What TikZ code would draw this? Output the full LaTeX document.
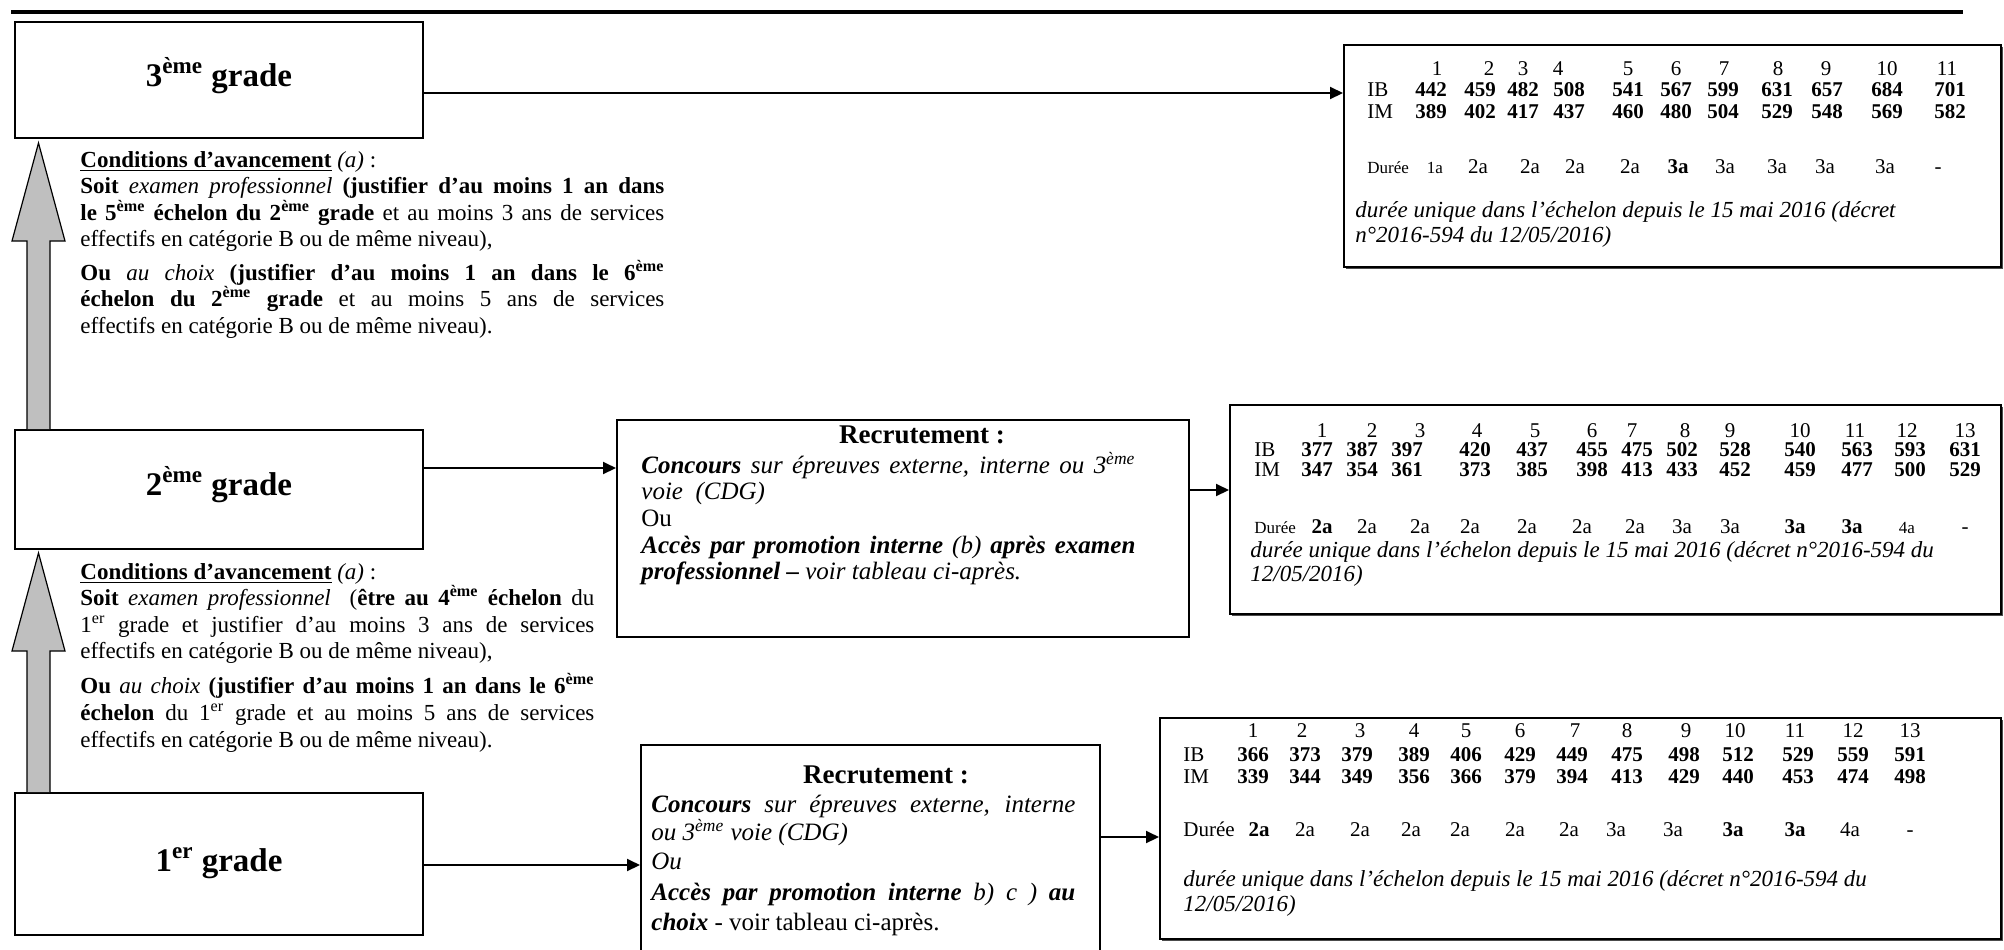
\documentclass[tikz,border=0pt]{standalone}
\usepackage{fontspec}
\setmainfont{Liberation Serif}
\usetikzlibrary{arrows.meta,calc,fit,shadows}
\newcommand\fbody{\fontsize{11.5}{13.35}\selectfont}
\newcommand\frec{\fontsize{12.5}{13}\selectfont}
\newcommand\frtitle{\fontsize{13.5}{14}\selectfont\bfseries}
\newcommand\ftitle{\fontsize{16.5}{18}\selectfont\bfseries}
\newcommand\fnum{\fontsize{10.5}{12}\selectfont}
\newcommand\fsm{\fontsize{8.5}{9}\selectfont}
\newcommand\fnote{\fontsize{11.5}{13}\selectfont\itshape}
\newcommand\sx[1]{\textsuperscript{#1}}
\begin{document}
\begin{tikzpicture}[x=0.5pt,y=-0.5pt,
  box/.style={draw,line width=1pt,inner sep=0pt,fill=white},
  tbox/.style={box,drop shadow={shadow xshift=1pt,shadow yshift=-1pt,fill=black!70,opacity=1}},
  conn/.style={line width=1pt,-{Triangle[length=6.5pt,width=6pt]}},
  gar/.style={draw,line width=0.6pt,fill=black!25},
  txt/.style={anchor=base west,inner sep=0pt,font=\fbody},
  rtxt/.style={anchor=base west,inner sep=0pt,font=\frec},
  rtitle/.style={anchor=base,inner sep=0pt,font=\frtitle},
  num/.style={anchor=base,inner sep=0pt,font=\fnum},
  numb/.style={anchor=base,inner sep=0pt,font=\fnum\bfseries},
  lab/.style={anchor=base west,inner sep=0pt,font=\fnum},
  note/.style={anchor=base west,inner sep=0pt,font=\fnote},
  gtitle/.style={anchor=base,inner sep=0pt,font=\ftitle},
]
\useasboundingbox (0,0) rectangle (2004,949);
% top rule
\coordinate (ruleL) at (11,12);
\coordinate (ruleR) at (1963,12);
\draw[line width=2pt] (ruleL) -- (ruleR);

% grade boxes
\node[box, fit={(15,22) (423,138)}] (g3) {};
\node[box, fit={(15,430) (423,549)}] (g2) {};
\node[box, fit={(15,793) (423,935)}] (g1) {};
\node[gtitle] (g3t) at (219,86) {3\sx{ème} grade};
\node[gtitle] (g2t) at (219,495) {2\sx{ème} grade};
\node[gtitle] (g1t) at (219,871) {1\sx{er} grade};

% recruitment boxes
\node[box, fit={(617,420) (1189,637)}] (r2) {};
\node[box, fit={(641,745) (1100,965)}] (r1) {};

% tables
\node[tbox, fit={(1344,45) (2001,267)}] (t3) {};
\node[tbox, fit={(1230,405) (2001,614)}] (t2) {};
\node[tbox, fit={(1160,718) (2001,939)}] (t1) {};

% grey advancement arrows
\filldraw[gar] ($(g2.north west)+(13,0)$) -- ($(g3.south west)+(13,102)$) -- ($(g3.south west)+(-2,102)$) -- ($(g3.south west)+(24.5,4)$) -- ($(g3.south west)+(51,102)$) -- ($(g3.south west)+(36,102)$) -- ($(g2.north west)+(36,0)$);
\filldraw[gar] ($(g1.north west)+(13,0)$) -- ($(g2.south west)+(13,101)$) -- ($(g2.south west)+(-2,101)$) -- ($(g2.south west)+(24.5,3)$) -- ($(g2.south west)+(51,101)$) -- ($(g2.south west)+(36,101)$) -- ($(g1.north west)+(36,0)$);

% connectors
\coordinate (y3) at (0,93);
\coordinate (y2a) at (0,468);
\coordinate (y2b) at (0,490);
\coordinate (y1a) at (0,865);
\coordinate (y1b) at (0,837);
\draw[conn] (g3.east |- y3) -- (t3.west |- y3);
\draw[conn] (g2.east |- y2a) -- (r2.west |- y2a);
\draw[conn] (r2.east |- y2b) -- (t2.west |- y2b);
\draw[conn] (g1.east |- y1a) -- (r1.west |- y1a);
\draw[conn] (r1.east |- y1b) -- (t1.west |- y1b);

% conditions block 1
\node[txt] (c3a) at (80,167) {\underline{\textbf{Conditions d’avancement}} \textit{(a)} :};
\node[txt] (c3b) at (80,193) {\makebox[292pt][s]{\textbf{Soit} \textit{examen professionnel} \textbf{(justifier d’au moins 1 an dans}}};
\node[txt] (c3c) at (80,220) {\makebox[292pt][s]{\textbf{le 5\sx{ème} échelon du 2\sx{ème} grade} et au moins 3 ans de services}};
\node[txt] (c3d) at (80,246) {effectifs en catégorie B ou de même niveau),};
\node[txt] (c3e) at (80,280) {\makebox[292pt][s]{\textbf{Ou} \textit{au choix} \textbf{(justifier d’au moins 1 an dans le 6\sx{ème}}}};
\node[txt] (c3f) at (80,306) {\makebox[292pt][s]{\textbf{échelon du 2\sx{ème} grade} et au moins 5 ans de services}};
\node[txt] (c3g) at (80,333) {effectifs en catégorie B ou de même niveau).};

% conditions block 2
\node[txt] (c2a) at (80,579) {\underline{\textbf{Conditions d’avancement}} \textit{(a)} :};
\node[txt] (c2b) at (80,605) {\makebox[257pt][s]{\textbf{Soit} \textit{examen professionnel}\ \ (\textbf{être au 4\sx{ème} échelon} du}};
\node[txt] (c2c) at (80,632) {\makebox[257pt][s]{1\sx{er} grade et justifier d’au moins 3 ans de services}};
\node[txt] (c2d) at (80,658) {effectifs en catégorie B ou de même niveau),};
\node[txt] (c2e) at (80,693) {\makebox[257pt][s]{\textbf{Ou} \textit{au choix} \textbf{(justifier d’au moins 1 an dans le 6\sx{ème}}}};
\node[txt] (c2f) at (80,720) {\makebox[257pt][s]{\textbf{échelon} du 1\sx{er} grade et au moins 5 ans de services}};
\node[txt] (c2g) at (80,747) {effectifs en catégorie B ou de même niveau).};

% recruitment 2
\node[rtitle] (r2t) at (922,443) {Recrutement :};
\node[rtxt] (r2a) at (641,473) {\makebox[247pt][s]{\itshape\textbf{Concours} sur épreuves externe, interne ou 3\sx{ème}}};
\node[rtxt] (r2b) at (641,499) {\itshape voie\ \ (CDG)};
\node[rtxt] (r2c) at (641,526) {Ou};
\node[rtxt] (r2d) at (641,553) {\makebox[247pt][s]{\itshape\textbf{Accès par promotion interne} (b) \textbf{après examen}}};
\node[rtxt] (r2e) at (641,579) {\itshape\textbf{professionnel –} voir tableau ci-après.};

% recruitment 1
\node[rtitle] (r1t) at (886,783) {Recrutement :};
\node[rtxt] (r1a) at (651,812) {\makebox[212pt][s]{\itshape\textbf{Concours} sur épreuves externe, interne}};
\node[rtxt] (r1b) at (651,840) {\itshape ou 3\sx{ème} voie (CDG)};
\node[rtxt] (r1c) at (651,869) {\itshape Ou};
\node[rtxt] (r1d) at (651,900) {\makebox[212pt][s]{\itshape\textbf{Accès par promotion interne} b) c ) \textbf{au}}};
\node[rtxt] (r1e) at (651,930) {\textbf{\itshape choix} - voir tableau ci-après.};

% table 3
\foreach \v/\x [count=\i] in {1/1437,2/1489,3/1523,4/1558,5/1628,6/1676,7/1724,8/1778,9/1826,10/1887,11/1947}
  \node[num] (t3h\i) at (\x,75) {\v};
\node[lab] (t3ibl) at (1367,96) {IB};
\node[lab] (t3iml) at (1367,118) {IM};
\foreach \v/\x [count=\i] in {442/1431,459/1480,482/1523,508/1569,541/1628,567/1676,599/1723,631/1777,657/1827,684/1887,701/1950}
  \node[numb] (t3ib\i) at (\x,96) {\v};
\foreach \v/\x [count=\i] in {389/1431,402/1480,417/1523,437/1569,460/1628,480/1676,504/1723,529/1777,548/1827,569/1887,582/1950}
  \node[numb] (t3im\i) at (\x,118) {\v};
\node[lab,font=\fsm] (t3dl) at (1367,173) {Durée};
\foreach \v/\x [count=\i] in {{\fsm 1a}/1435,2a/1478,2a/1530,2a/1575,2a/1630,\textbf{3a}/1678,3a/1725,3a/1777,3a/1825,3a/1885,-/1938}
  \node[num] (t3d\i) at (\x,173) {\v};
\node[note] (t3n1) at (1355,217) {durée unique dans l’échelon depuis le 15 mai 2016 (décret};
\node[note] (t3n2) at (1355,242) {n°2016-594 du 12/05/2016)};

% table 2
\foreach \v/\x [count=\i] in {1/1322,2/1372,3/1420,4/1477,5/1535,6/1592,7/1632,8/1685,9/1730,10/1800,11/1855,12/1907,13/1965}
  \node[num] (t2h\i) at (\x,437) {\v};
\node[lab] (t2ibl) at (1254,456) {IB};
\node[lab] (t2iml) at (1254,476) {IM};
\foreach \v/\x [count=\i] in {377/1317,387/1362,397/1407,420/1475,437/1532,455/1592,475/1637,502/1682,528/1735,540/1800,563/1857,593/1910,631/1965}
  \node[numb] (t2ib\i) at (\x,456) {\v};
\foreach \v/\x [count=\i] in {347/1317,354/1362,361/1407,373/1475,385/1532,398/1592,413/1637,433/1682,452/1735,459/1800,477/1857,500/1910,529/1965}
  \node[numb] (t2im\i) at (\x,476) {\v};
\node[lab,font=\fsm] (t2dl) at (1254,533) {Durée};
\foreach \v/\x [count=\i] in {\textbf{2a}/1322,2a/1367,2a/1420,2a/1470,2a/1527,2a/1582,2a/1635,3a/1682,3a/1730,\textbf{3a}/1795,\textbf{3a}/1852,{\fsm 4a}/1907,-/1965}
  \node[num] (t2d\i) at (\x,533) {\v};
\node[note] (t2n1) at (1250,557) {durée unique dans l’échelon depuis le 15 mai 2016 (décret n°2016-594 du};
\node[note] (t2n2) at (1250,581) {12/05/2016)};

% table 1
\foreach \v/\x [count=\i] in {1/1253,2/1302,3/1360,4/1414,5/1466,6/1520,7/1575,8/1627,9/1686,10/1735,11/1795,12/1853,13/1910}
  \node[num] (t1h\i) at (\x,737) {\v};
\node[lab] (t1ibl) at (1183,761) {IB};
\node[lab] (t1iml) at (1183,783) {IM};
\foreach \v/\x [count=\i] in {366/1253,373/1305,379/1357,389/1414,406/1466,429/1520,449/1572,475/1627,498/1684,512/1738,529/1798,559/1853,591/1910}
  \node[numb] (t1ib\i) at (\x,761) {\v};
\foreach \v/\x [count=\i] in {339/1253,344/1305,349/1357,356/1414,366/1466,379/1520,394/1572,413/1627,429/1684,440/1738,453/1798,474/1853,498/1910}
  \node[numb] (t1im\i) at (\x,783) {\v};
\node[lab] (t1dl) at (1183,836) {Durée};
\foreach \v/\x [count=\i] in {\textbf{2a}/1259,2a/1305,2a/1360,2a/1411,2a/1460,2a/1515,2a/1569,3a/1616,3a/1673,\textbf{3a}/1733,\textbf{3a}/1795,4a/1850,-/1910}
  \node[num] (t1d\i) at (\x,836) {\v};
\node[note] (t1n1) at (1183,886) {durée unique dans l’échelon depuis le 15 mai 2016 (décret n°2016-594 du};
\node[note] (t1n2) at (1183,911) {12/05/2016)};
\end{tikzpicture}
\end{document}
